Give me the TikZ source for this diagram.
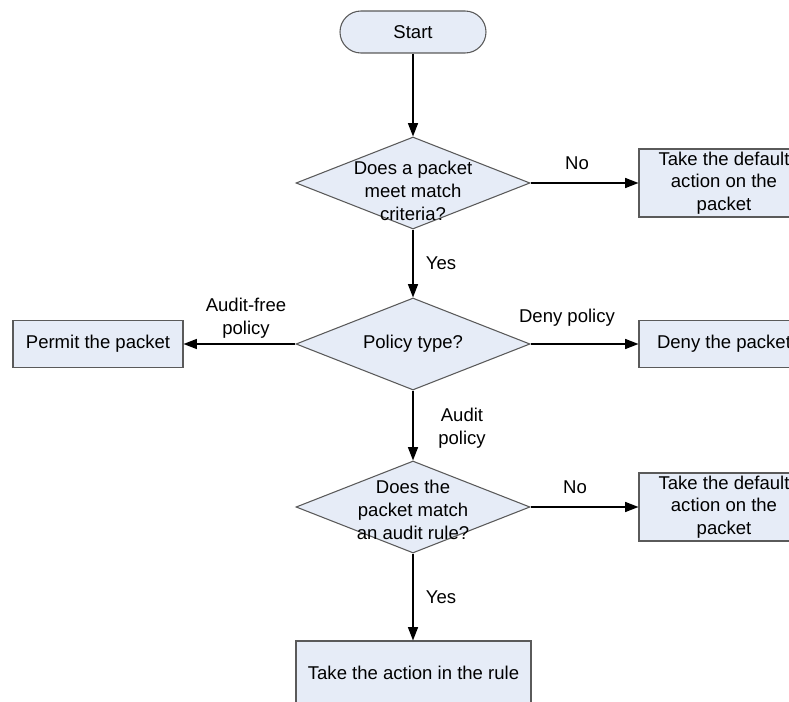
\documentclass[tikz,border=0pt]{standalone}
\usepackage{fontspec}
\setmainfont{Liberation Sans}
\usetikzlibrary{shapes.geometric,arrows.meta}
\definecolor{boxfill}{HTML}{E6ECF7}
\definecolor{boxline}{HTML}{5A5A5A}
\begin{document}
\begin{tikzpicture}[x=0.75pt,y=-0.75pt,
  font=\fontsize{13.9}{17}\selectfont,
  every node/.style={align=center, inner sep=0pt},
  proc/.style={draw=boxline, fill=boxfill, line width=0.8pt,
    minimum width=127.5pt, minimum height=51pt},
  smallproc/.style={proc, minimum height=35.25pt},
  term/.style={draw=boxline, fill=boxfill, line width=0.8pt,
    rounded corners=15.75pt, minimum width=109.5pt, minimum height=31.5pt},
  decision/.style={diamond, draw=boxline, fill=boxfill, line width=0.8pt,
    minimum width=175.5pt, minimum height=69pt},
  flow/.style={draw=black, line width=1pt, -{Triangle[length=10pt,width=7.5pt]}},
  lbl/.style={align=center}]
\useasboundingbox (0,0) rectangle (789,702);
\clip (0,0) rectangle (789,702);

% start terminal
\node[term] (start) at (413,32) {Start};

% first decision: match criteria
\node[decision] (d1) at (413,183) {};
\node (d1t) at (413,191) {Does a packet\\meet match\\criteria?};
\node[proc] (def1) at (724,183) {Take the default\\action on the\\packet};

% second decision: policy type
\node[decision] (d2) at (413,344) {};
\node (d2t) at (413,344) {Policy type?};
\node[smallproc] (permit) at (98,344) {Permit the packet};
\node[smallproc] (deny) at (724,344) {Deny the packet};

% third decision: audit rule
\node[decision] (d3) at (413,507) {};
\node (d3t) at (413,510) {Does the\\packet match\\an audit rule?};
\node[proc] (def2) at (724,507) {Take the default\\action on the\\packet};

% final action
\node[proc, minimum width=176.25pt, minimum height=48pt] (act) at (413.5,673) {Take the action in the rule};

% connectors
\draw[flow] (start) -- (d1);
\draw[flow] (d1) -- (def1);
\draw[flow] (d1) -- (d2);
\draw[flow] (d2) -- (permit);
\draw[flow] (d2) -- (deny);
\draw[flow] (d2) -- (d3);
\draw[flow] (d3) -- (def2);
\draw[flow] (d3.south) -- (act.north -| d3.south);

% connector labels
\node[lbl] (no1) at (577,163) {No};
\node[lbl] (yes1) at (441,263) {Yes};
\node[lbl] (afree) at (246,318) {Audit-free\\policy};
\node[lbl] (dpol) at (567,318) {Deny policy};
\node[lbl] (apol) at (462,428) {Audit\\policy};
\node[lbl] (no2) at (575,487) {No};
\node[lbl] (yes2) at (441,597) {Yes};
\end{tikzpicture}
\end{document}
